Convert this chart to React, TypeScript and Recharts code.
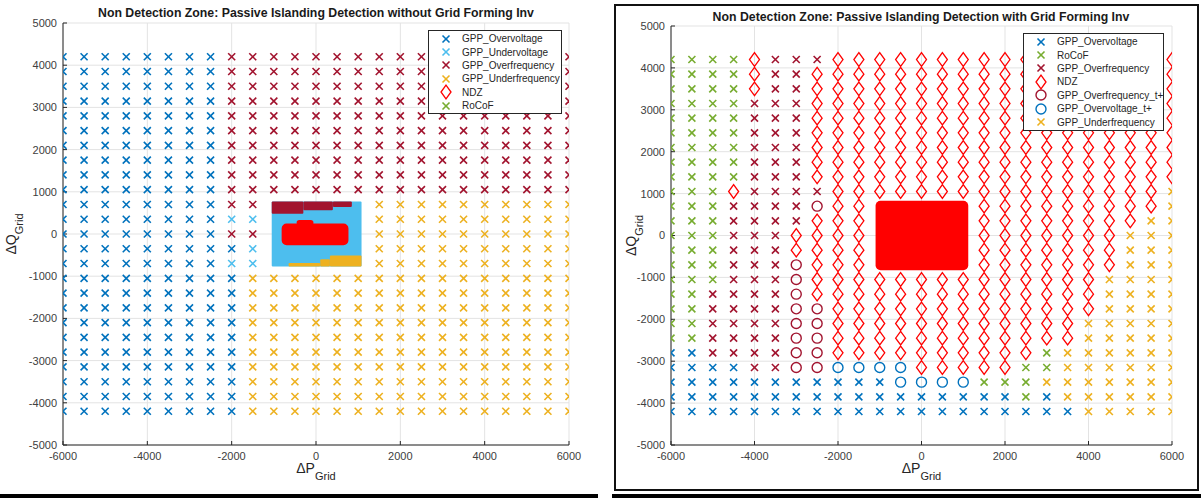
import {
  CartesianGrid,
  Label,
  Legend,
  ReferenceArea,
  Scatter,
  ScatterChart,
  XAxis,
  YAxis,
} from "recharts";

const FONT = '"Liberation Sans", Arial, Helvetica, sans-serif';

// grid of operating points (ΔP, ΔQ)
const P_VALUES = [
  -6000, -5500, -5000, -4500, -4000, -3500, -3000, -2500, -2000, -1500, -1000,
  -500, 0, 500, 1000, 1500, 2000, 2500, 3000, 3500, 4000, 4500, 5000, 5500, 6000,
];
const Q_VALUES = [
  4200, 3850, 3500, 3150, 2800, 2450, 2100, 1750, 1400, 1050, 700, 350, 0,
  -350, -700, -1050, -1400, -1750, -2100, -2450, -2800, -3150, -3500, -3850,
  -4200,
];
const X_TICKS = [-6000, -4000, -2000, 0, 2000, 4000, 6000];
const Y_TICKS = [-5000, -4000, -3000, -2000, -1000, 0, 1000, 2000, 3000, 4000, 5000];

// one string per ΔQ row, one char per ΔP column
// B overvoltage, L undervoltage, R overfrequency, Y underfrequency,
// G RoCoF, D NDZ, O overfrequency t+, C overvoltage t+, . none
const LEFT_ROWS = [
  "BBBBBBBBRRRRRRRRRRRRRRRRR",
  "BBBBBBBBRRRRRRRRRRRRRRRRR",
  "BBBBBBBBRRRRRRRRRRRRRRRRR",
  "BBBBBBBBRRRRRRRRRRRRRRRRR",
  "BBBBBBBBRRRRRRRRRRRRRRRRR",
  "BBBBBBBBRRRRRRRRRRRRRRRRR",
  "BBBBBBBBRRRRRRRRRRRRRRRRR",
  "BBBBBBBBRRRRRRRRRRRRRRRRR",
  "BBBBBBBBRRRRRRRRRRRRRRRRR",
  "BBBBBBBBRRRRRRRRRRRRRRRRR",
  "BBBBBBBBRR.....YYYYYYYYYY",
  "BBBBBBBBLL.....YYYYYYYYYY",
  "BBBBBBBBRR.....YYYYYYYYYY",
  "BBBBBBBBBL.....YYYYYYYYYY",
  "BBBBBBBBLL.....YYYYYYYYYY",
  "BBBBBBBBBYYYYYYYYYYYYYYYY",
  "BBBBBBBBBYYYYYYYYYYYYYYYY",
  "BBBBBBBBBYYYYYYYYYYYYYYYY",
  "BBBBBBBBBYYYYYYYYYYYYYYYY",
  "BBBBBBBBBYYYYYYYYYYYYYYYY",
  "BBBBBBBBBYYYYYYYYYYYYYYYY",
  "BBBBBBBBBYYYYYYYYYYYYYYYY",
  "BBBBBBBBBYYYYYYYYYYYYYYYY",
  "BBBBBBBBBYYYYYYYYYYYYYYYY",
  "BBBBBBBBBYYYYYYYYYYYYYYYY",
];

const RIGHT_ROWS = [
  "GGGGDRRRDDDDDDDDDDDDDDDDD",
  "GGGGDRRDDDDDDDDDDDDDDDDDD",
  "GGGGDRRDDDDDDDDDDDDDDDDDD",
  "GGGGRRRDDDDDDDDDDDDDDDDDD",
  "GGGGRRRDDDDDDDDDDDDDDDDDD",
  "GGGGRRRDDDDDDDDDDDDDDDDDD",
  "GGGGRRRDDDDDDDDDDDDDDDDDD",
  "GGGGRRRDDDDDDDDDDDDDDDDDD",
  "GGGGRRRDDDDDDDDDDDDDDDDDD",
  "GGGDRRRRDDDDDDDDDDDDDDDDY",
  "GGGRRRRODD.....DDDDDDDDDY",
  "GGGRRRRDDD.....DDDDDDDDYY",
  "GGGRRRDDDD.....DDDDDDDYYY",
  "GGGRRRDDDD.....DDDDDDDYYY",
  "GGGRRRODDD.....DDDDDDDYYY",
  "GGGRRRODDDDDDDDDDDDDDYYYY",
  "GGRRRRODDDDDDDDDDDDDDYYYY",
  "GGRRRROODDDDDDDDDDDDDYYYY",
  "GGRRRROODDDDDDDDDDDDYYYYY",
  "GGRRRROODDDDDDDDDDDDYYYYY",
  "BBRRRROODDDDDDDDDDGYYYYYY",
  "BBBBRROOCCCCDDDDDGGYYYYYY",
  "BBBBBBBBBBBCCCCGGGYYYYYYY",
  "BBBBBBBBBBBBBBBBBGBYYYYYY",
  "BBBBBBBBBBBBBBBBBBBBYYYYY",
];

// densely sampled centre region, as filled patches [p1, p2, q1, q2, code]
const LEFT_PATCHES: [number, number, number, number, string][] = [
  [-1050, 1080, -770, 770, "L"],
  [-1050, -300, 480, 770, "R"],
  [-300, 400, 560, 770, "R"],
  [400, 850, 640, 770, "R"],
  [-650, 100, -770, -690, "Y"],
  [100, 330, -770, -600, "Y"],
  [330, 1080, -770, -510, "Y"],
  [-815, 770, -265, 250, "D"],
  [-460, -60, 200, 330, "D"],
];
const RIGHT_PATCHES: [number, number, number, number, string][] = [
  [-1100, 1120, -830, 830, "D"],
];

const LEFT_LEGEND: [string, string][] = [
  ["GPP_Overvoltage", "B"],
  ["GPP_Undervoltage", "L"],
  ["GPP_Overfrequency", "R"],
  ["GPP_Underfrequency", "Y"],
  ["NDZ", "D"],
  ["RoCoF", "G"],
];
const RIGHT_LEGEND: [string, string][] = [
  ["GPP_Overvoltage", "B"],
  ["RoCoF", "G"],
  ["GPP_Overfrequency", "R"],
  ["NDZ", "D"],
  ["GPP_Overfrequency_t+", "O"],
  ["GPP_Overvoltage_t+", "C"],
  ["GPP_Underfrequency", "Y"],
];

const MARKS: Record<string, { color: string; kind: "x" | "diamond" | "circle" }> = {
  B: { color: "#0072BD", kind: "x" },
  L: { color: "#4DBEEE", kind: "x" },
  R: { color: "#A2142F", kind: "x" },
  Y: { color: "#EDB120", kind: "x" },
  G: { color: "#77AC30", kind: "x" },
  D: { color: "#FF0000", kind: "diamond" },
  O: { color: "#A2142F", kind: "circle" },
  C: { color: "#0072BD", kind: "circle" },
};

function Marker({ cx, cy, code }: { cx: number; cy: number; code: string }) {
  const m = MARKS[code];
  if (cx == null || cy == null) return null;
  if (m.kind === "x") {
    const s = 3.5;
    return (
      <g stroke={m.color} strokeWidth={1.6}>
        <line x1={cx - s} y1={cy - s} x2={cx + s} y2={cy + s} />
        <line x1={cx - s} y1={cy + s} x2={cx + s} y2={cy - s} />
      </g>
    );
  }
  if (m.kind === "diamond") {
    const w = 5;
    const h = 6.8;
    return (
      <polygon
        points={`${cx},${cy - h} ${cx + w},${cy} ${cx},${cy + h} ${cx - w},${cy}`}
        fill="none"
        stroke={m.color}
        strokeWidth={1.3}
      />
    );
  }
  return <circle cx={cx} cy={cy} r={5} fill="none" stroke={m.color} strokeWidth={1.4} />;
}

function pointsFor(rows: string[], code: string) {
  const pts: { p: number; q: number }[] = [];
  rows.forEach((row, i) => {
    for (let j = 0; j < row.length; j++) {
      if (row[j] === code) pts.push({ p: P_VALUES[j], q: Q_VALUES[i] });
    }
  });
  return pts;
}

function LegendBox({ items }: { items: [string, string][] }) {
  return (
    <div
      style={{
        background: "#fff",
        border: "1px solid #262626",
        padding: "1px 0",
        fontFamily: FONT,
        fontSize: 10,
        color: "#262626",
      }}
    >
      {items.map(([name, code]) => (
        <div key={name} style={{ display: "flex", alignItems: "center", height: 13.4 }}>
          <svg width={33} height={14} style={{ overflow: "visible", flex: "none" }}>
            <Marker cx={17} cy={7} code={code} />
          </svg>
          <span style={{ whiteSpace: "nowrap" }}>{name}</span>
        </div>
      ))}
    </div>
  );
}

type PanelProps = {
  rows: string[];
  patches: [number, number, number, number, string][];
  legend: [string, string][];
  yAxisWidth: number;
  top: number;
  right: number;
  qLabelX: number;
  legendPos: { left: number; top: number; width: number };
};

function Panel({ rows, patches, legend, yAxisWidth, top, right, qLabelX, legendPos }: PanelProps) {
  const tick = { fill: "#404040", fontSize: 11, fontFamily: FONT };
  return (
    <ScatterChart width={600} height={490} margin={{ top, right, left: 0, bottom: 15 }}>
      <CartesianGrid stroke="#e3e3e3" />
      <XAxis
        type="number"
        dataKey="p"
        domain={[-6000, 6000]}
        ticks={X_TICKS}
        tick={tick}
        tickSize={-4}
        tickMargin={11}
        stroke="#262626"
        height={30}
        allowDataOverflow
      >
        <Label
          content={({ viewBox }: any) => (
            <text
              x={viewBox.x + viewBox.width / 2}
              y={473}
              textAnchor="middle"
              fontFamily={FONT}
              fill="#262626"
            >
              <tspan fontSize={14}>ΔP</tspan>
              <tspan fontSize={11} dy={7}>Grid</tspan>
            </text>
          )}
        />
      </XAxis>
      <YAxis
        type="number"
        dataKey="q"
        domain={[-5000, 5000]}
        ticks={Y_TICKS}
        tick={tick}
        tickSize={-4}
        tickMargin={10}
        stroke="#262626"
        width={yAxisWidth}
        allowDataOverflow
      >
        <Label
          content={({ viewBox }: any) => {
            const cy = viewBox.y + viewBox.height / 2;
            return (
              <text
                x={qLabelX}
                y={cy}
                transform={`rotate(-90 ${qLabelX} ${cy})`}
                textAnchor="middle"
                fontFamily={FONT}
                fill="#262626"
              >
                <tspan fontSize={14}>ΔQ</tspan>
                <tspan fontSize={11} dy={7}>Grid</tspan>
              </text>
            );
          }}
        />
      </YAxis>
      {patches.map(([p1, p2, q1, q2, code], i) => (
        <ReferenceArea
          key={i}
          x1={p1}
          x2={p2}
          y1={q1}
          y2={q2}
          fill={MARKS[code].color}
          fillOpacity={1}
          stroke="none"
          radius={code === "D" ? 5 : 1}
          ifOverflow="visible"
        />
      ))}
      {legend.map(([name, code]) => (
        <Scatter
          key={name}
          name={name}
          data={pointsFor(rows, code)}
          isAnimationActive={false}
          shape={(props: any) => <Marker cx={props.cx} cy={props.cy} code={code} />}
        />
      ))}
      <Legend
        layout="vertical"
        align="center"
        verticalAlign="middle"
        wrapperStyle={{ left: legendPos.left, top: legendPos.top, width: legendPos.width }}
        content={() => <LegendBox items={legend} />}
      />
    </ScatterChart>
  );
}

const titleStyle = {
  position: "absolute" as const,
  fontFamily: FONT,
  fontWeight: 700,
  fontSize: 12.3,
  color: "#1a1a1a",
  whiteSpace: "nowrap" as const,
  transform: "translate(-50%, -50%)",
};

export default function App() {
  return (
    <div
      style={{
        position: "absolute",
        left: 0,
        top: 0,
        width: 1201,
        height: 498,
        background: "#fff",
        overflow: "hidden",
      }}
    >
      <div style={{ position: "absolute", left: 0, top: 0 }}>
        <Panel
          rows={LEFT_ROWS}
          patches={LEFT_PATCHES}
          legend={LEFT_LEGEND}
          yAxisWidth={63}
          top={23}
          right={31}
          qLabelX={16}
          legendPos={{ left: 428, top: 30, width: 134 }}
        />
      </div>
      <div style={{ ...titleStyle, left: 316, top: 13 }}>
        Non Detection Zone: Passive Islanding Detection without Grid Forming Inv
      </div>
      <div style={{ position: "absolute", left: 600, top: 0 }}>
        <Panel
          rows={RIGHT_ROWS}
          patches={RIGHT_PATCHES}
          legend={RIGHT_LEGEND}
          yAxisWidth={71}
          top={26}
          right={28}
          qLabelX={36}
          legendPos={{ left: 423, top: 33, width: 141 }}
        />
      </div>
      <div style={{ ...titleStyle, left: 921, top: 17 }}>
        Non Detection Zone: Passive Islanding Detection with Grid Forming Inv
      </div>
      <div
        style={{
          position: "absolute",
          left: 614,
          top: 4,
          width: 585,
          height: 487,
          border: "2px solid #111",
          boxSizing: "border-box",
          pointerEvents: "none",
        }}
      />
      <div style={{ position: "absolute", left: 0, top: 494, width: 598, height: 4, background: "#000" }} />
      <div style={{ position: "absolute", left: 612, top: 494, width: 589, height: 4, background: "#000" }} />
    </div>
  );
}
